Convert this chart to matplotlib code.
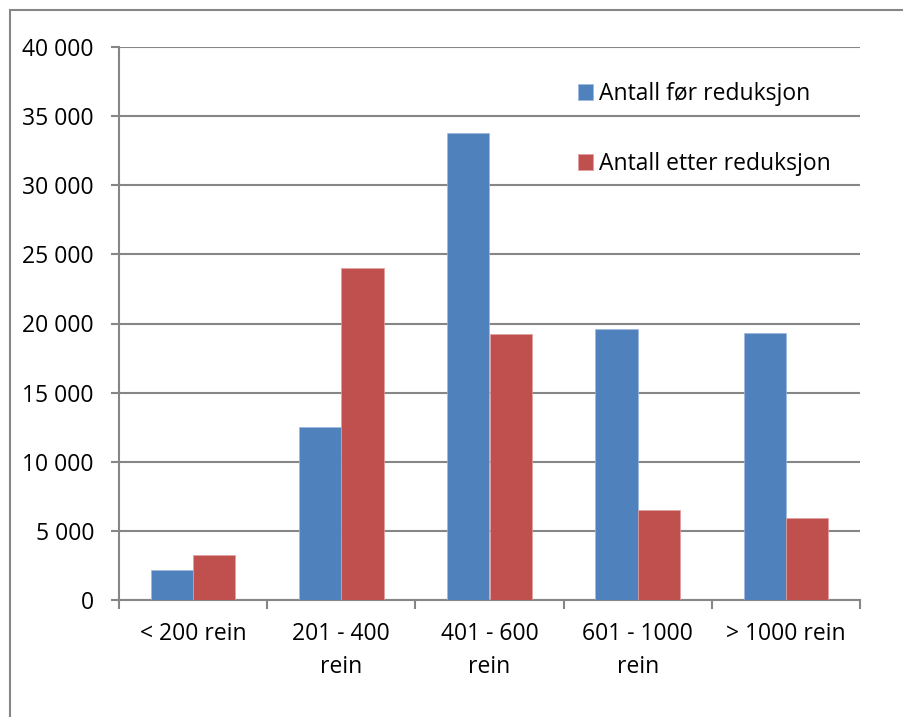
import numpy as np
import matplotlib
matplotlib.use("Agg")
import matplotlib.pyplot as plt
from matplotlib.patches import Rectangle
from matplotlib.ticker import FuncFormatter, FixedLocator

plt.rcParams["font.family"] = ["Open Sans", "DejaVu Sans"]

categories = ["< 200 rein", "201 - 400\nrein", "401 - 600\nrein", "601 - 1000\nrein", "> 1000 rein"]
before = [2190, 12510, 33790, 19580, 19310]
after = [3260, 24040, 19220, 6510, 5930]
series_names = ["Antall før reduksjon", "Antall etter reduksjon"]

blue = "#4F81BD"
red = "#C0504D"
grey = "#868686"
fs = 16.5

W, H = 904, 717
fig = plt.figure(figsize=(W / 100, H / 100), dpi=100)
ax = fig.add_axes([119 / W, (H - 600) / H, (860 - 119) / W, (600 - 47) / H])

x = np.arange(len(categories))
width = 0.285
ax.bar(x - width / 2, before, width, color=blue, edgecolor="#9DB8DC", linewidth=0.5,
       label=series_names[0], zorder=3)
ax.bar(x + width / 2, after, width, color=red, edgecolor="#E0A09E", linewidth=0.5,
       label=series_names[1], zorder=3)

ax.set_xlim(-0.5, len(categories) - 0.5)
ax.set_ylim(0, 40000)
ax.set_yticks(np.arange(0, 40001, 5000))
ax.yaxis.set_major_formatter(FuncFormatter(lambda v, p: f"{int(v):,}".replace(",", " ")))
ax.yaxis.grid(True, color=grey, linewidth=1.5, zorder=0)

# category labels centred, ticks on category boundaries
ax.set_xticks(x)
ax.set_xticklabels(categories, fontsize=fs, linespacing=1.55)
ax.tick_params(axis="x", which="major", length=0, pad=15.5)
ax.xaxis.set_minor_locator(FixedLocator(np.arange(-0.5, len(categories), 1.0)))
ax.tick_params(axis="x", which="minor", length=6.5, width=1.5, color=grey, direction="out")
ax.tick_params(axis="y", length=6, width=1.5, color=grey, direction="out", labelsize=fs, pad=12)

for side in ["top", "right"]:
    ax.spines[side].set_visible(False)
for side in ["left", "bottom"]:
    ax.spines[side].set_color(grey)
    ax.spines[side].set_linewidth(1.5)

ax.legend(loc="upper left", bbox_to_anchor=(578 / W, 1 - 82 / H), bbox_transform=fig.transFigure,
          frameon=False, fontsize=fs, handlelength=0.66, handleheight=0.66,
          handletextpad=0.27, labelspacing=2.0, borderpad=0, borderaxespad=0)

# outer chart border (cropped at right and bottom)
fig.patches.append(Rectangle((10 / W, -0.05), 1.0, 1 - 10 / H + 0.05, transform=fig.transFigure,
                             fill=False, edgecolor=grey, linewidth=1.5))

fig.savefig("out.png", dpi=100)
